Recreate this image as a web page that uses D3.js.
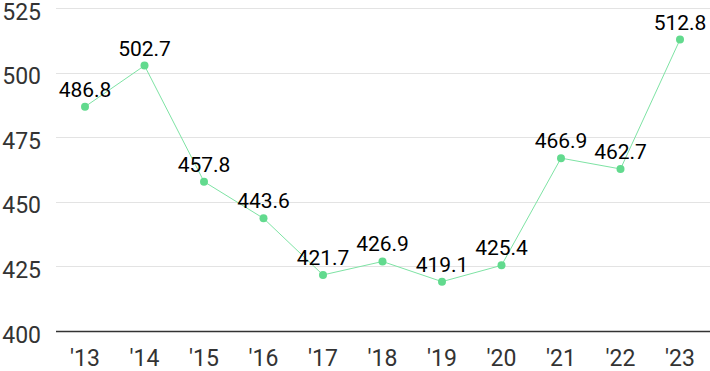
<!DOCTYPE html>
<meta charset="utf-8">
<style>
    body { margin: 0; background: #fff; }
    text { font-family: Roboto, Inter, sans-serif; }
</style>
<body>
<script src="https://cdn.jsdelivr.net/npm/d3@7"></script>
<script>
    var years = ["'13", "'14", "'15", "'16", "'17", "'18", "'19", "'20", "'21", "'22", "'23"];
    var values = [486.8, 502.7, 457.8, 443.6, 421.7, 426.9, 419.1, 425.4, 466.9, 462.7, 512.8];
    var yTicks = [400, 425, 450, 475, 500, 525];

    var width = 710,
        height = 371;

    var svg = d3.select("body").append("svg")
        .attr("width", width)
        .attr("height", height);

    var x = d3.scalePoint()
        .domain(years)
        .range([85, 680]);

    var y = d3.scaleLinear()
        .domain([400, 525])
        .range([331, 8]);

    // grid
    svg.selectAll(".grid")
        .data(yTicks)
        .enter().append("line")
        .attr("x1", 56)
        .attr("x2", width)
        .attr("y1", function (d) { return Math.round(y(d)) + 0.5; })
        .attr("y2", function (d) { return Math.round(y(d)) + 0.5; })
        .attr("stroke", function (d) { return d == 400 ? "#333" : "#e3e3e3"; })
        .attr("stroke-width", function (d) { return d == 400 ? 1.5 : 1; });

    svg.selectAll(".ylab")
        .data(yTicks)
        .enter().append("text")
        .attr("x", 41)
        .attr("y", function (d) { return y(d); })
        .attr("dy", "0.5em")
        .attr("text-anchor", "end")
        .attr("fill", "#333")
        .style("font-size", "23px")
        .text(function (d) { return d; });

    svg.selectAll(".xlab")
        .data(years)
        .enter().append("text")
        .attr("x", function (d) { return x(d); })
        .attr("y", 366)
        .attr("text-anchor", "middle")
        .attr("fill", "#333")
        .style("font-size", "23px")
        .text(function (d) { return d; });

    var line = d3.line()
        .x(function (d, i) { return x(years[i]); })
        .y(function (d) { return y(d); });

    svg.append("path")
        .datum(values)
        .attr("d", line)
        .attr("fill", "none")
        .attr("stroke", "#7ee3a4")
        .attr("stroke-width", 1);

    svg.selectAll(".dot")
        .data(values)
        .enter().append("circle")
        .attr("cx", function (d, i) { return x(years[i]); })
        .attr("cy", function (d) { return y(d); })
        .attr("r", 4)
        .attr("fill", "#62da8e");

    svg.selectAll(".val")
        .data(values)
        .enter().append("text")
        .attr("x", function (d, i) { return x(years[i]); })
        .attr("y", function (d) { return y(d) - 10; })
        .attr("text-anchor", "middle")
        .attr("fill", "#000")
        .style("font-size", "21px")
        .text(function (d) { return d.toFixed(1); });
</script>
</body>
